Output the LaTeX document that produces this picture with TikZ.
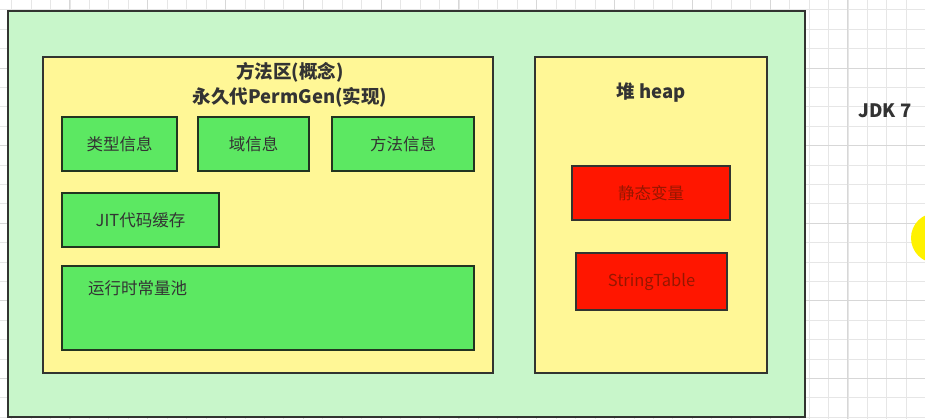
\documentclass[tikz,border=0pt]{standalone}
\usepackage{fontspec}
\setmainfont{Noto Sans CJK SC}
\usepackage{xcolor}
\definecolor{outerg}{RGB}{200,246,202}
\definecolor{areay}{RGB}{255,247,150}
\definecolor{boxg}{RGB}{92,232,98}
\definecolor{boxr}{RGB}{255,22,0}
\definecolor{edge}{RGB}{50,52,48}
\definecolor{gedge}{RGB}{34,52,32}
\definecolor{txt}{RGB}{51,51,51}
\definecolor{rtxt}{RGB}{150,22,0}
\definecolor{gridminor}{RGB}{230,230,230}
\definecolor{gridmajor}{RGB}{215,215,215}

\begin{document}
\begin{tikzpicture}[x=1pt,y=-1pt,font=\fontsize{16.5}{19}\selectfont,text=txt]
    \tikzstyle{area}=[draw=edge, line width=1.5pt, inner sep=0pt]
    \tikzstyle{gbox}=[draw=gedge, line width=1.6pt, fill=boxg, inner sep=0pt, minimum height=54pt]
    \tikzstyle{rbox}=[draw=edge, line width=1.6pt, fill=boxr, inner sep=0pt, text=rtxt]
    \tikzstyle{title}=[font=\fontsize{18.5}{20}\selectfont\bfseries, inner sep=0pt]
    \useasboundingbox (0,0) rectangle (925,419);
    \fill[white] (0,0) rectangle (925,419);
    \foreach \i in {0,...,47} \draw[gridminor, line width=0.8pt] ({11.55+\i*19.45},0) -- ({11.55+\i*19.45},419);
    \foreach \j in {0,...,21} \draw[gridminor, line width=0.8pt] (0,{9.8+\j*19.4}) -- (925,{9.8+\j*19.4});
    \foreach \i in {3,7,...,47} \draw[gridmajor, line width=0.9pt] ({11.55+\i*19.45},0) -- ({11.55+\i*19.45},419);
    \foreach \j in {3,7,...,19} \draw[gridmajor, line width=0.9pt] (0,{9.8+\j*19.4}) -- (925,{9.8+\j*19.4});
    \node[area, fill=outerg, minimum width=797pt, minimum height=406pt] (jvm) at (406.5, 214) {};
    \node[area, fill=areay, minimum width=450pt, minimum height=316pt] (perm) at (268, 215) {};
    \node[area, fill=areay, minimum width=232pt, minimum height=316pt] (heap) at (651, 215) {};
    \node[title] (pt1) at (290, 72) {方法区(概念)};
    \node[title] (pt2) at (290, 97) {永久代PermGen(实现)};
    \node[title] (ht) at (651, 93) {堆 heap};
    \node[gbox, minimum width=115pt] (type) at (119.5, 144) {类型信息};
    \node[gbox, minimum width=111pt] (field) at (253.5, 144) {域信息};
    \node[gbox, minimum width=142pt] (method) at (403, 144) {方法信息};
    \node[gbox, minimum width=157pt] (jit) at (140.5, 220) {JIT代码缓存};
    \node[gbox, minimum width=412pt, minimum height=84pt] (pool) at (268, 308) {};
    \node[inner sep=0pt, anchor=west] (poolt) at (88, 288) {运行时常量池};
    \node[rbox, minimum width=158pt, minimum height=54pt] (static) at (651, 193) {静态变量};
    \node[rbox, minimum width=151pt, minimum height=57pt] (str) at (651.5, 281.5) {StringTable};
    \node[title] (jdk) at (885, 111) {JDK 7};
    \node[circle, fill=yellow, minimum size=50pt, inner sep=0pt] (dot) at (936, 238) {};
\end{tikzpicture}
\end{document}
